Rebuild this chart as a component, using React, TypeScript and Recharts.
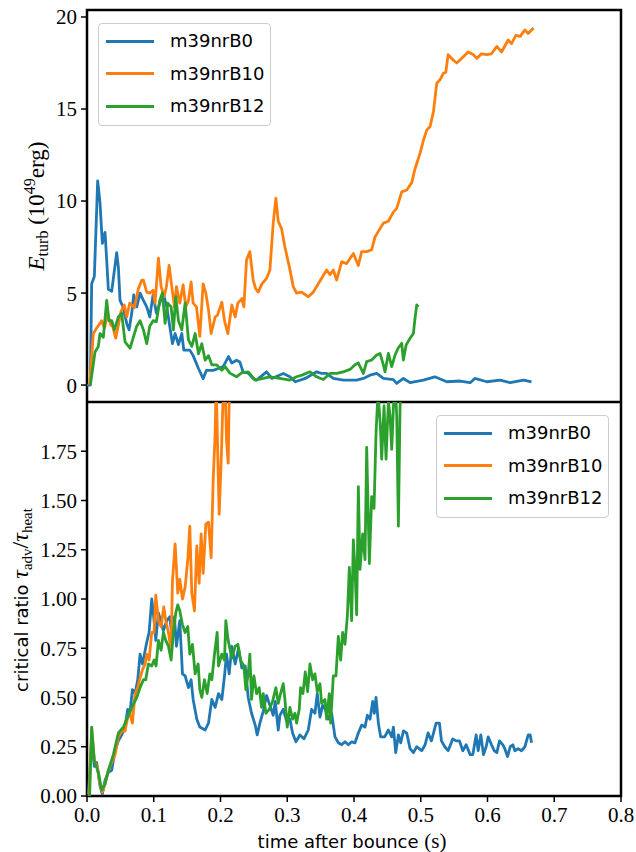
import React from 'react';
import { LineChart, Line, XAxis, YAxis, ReferenceArea } from 'recharts';

// [time after bounce (s), value]
const eB0: [number, number][] = [
  [0.0, 0], [0.005, 0], [0.007, 5.5], [0.011, 5.9], [0.016, 11.1], [0.0195, 9.9], [0.023, 7.7], [0.027, 8.3],
  [0.0295, 6.8], [0.032, 5.2], [0.037, 5.1], [0.0445, 7.2], [0.047, 6.4], [0.0495, 4.6], [0.054, 4.25],
  [0.0595, 3.35], [0.063, 3.0], [0.067, 3.9], [0.07, 4.9], [0.0745, 4.25], [0.0795, 5.0], [0.0845, 4.6],
  [0.0895, 4.25], [0.094, 3.7], [0.099, 4.9], [0.104, 3.9], [0.109, 4.45], [0.114, 5.0], [0.1195, 4.25],
  [0.124, 3.2], [0.128, 2.25], [0.132, 2.8], [0.137, 2.2], [0.142, 2.8], [0.145, 1.9], [0.154, 1.9],
  [0.159, 1.6], [0.167, 0.9], [0.174, 0.35], [0.179, 0.8], [0.189, 0.8], [0.197, 0.9], [0.204, 1.0],
  [0.212, 1.55], [0.217, 1.2], [0.224, 1.35], [0.229, 1.25], [0.234, 0.7], [0.2415, 0.65], [0.249, 0.35],
  [0.254, 0.27], [0.269, 0.72], [0.277, 0.36], [0.294, 0.63], [0.304, 0.45], [0.312, 0.18], [0.327, 0.36],
  [0.344, 0.72], [0.352, 0.63], [0.359, 0.63], [0.369, 0.36], [0.384, 0.27], [0.404, 0.27], [0.414, 0.36],
  [0.424, 0.54], [0.434, 0.63], [0.444, 0.36], [0.459, 0.3], [0.464, 0.09], [0.474, 0.36], [0.484, 0.13],
  [0.504, 0.27], [0.521, 0.45], [0.539, 0.18], [0.559, 0.22], [0.574, 0.13], [0.581, 0.36], [0.599, 0.18],
  [0.619, 0.27], [0.634, 0.13], [0.654, 0.27], [0.666, 0.18],
];

const eB10: [number, number][] = [
  [0.004, 0], [0.0095, 2.8], [0.0145, 3.1], [0.0195, 3.35], [0.022, 3.5], [0.026, 3.1], [0.031, 3.8],
  [0.036, 3.25], [0.038, 3.25], [0.043, 2.55], [0.047, 3.25], [0.051, 4.0], [0.056, 4.35], [0.0595, 3.7],
  [0.064, 4.45], [0.071, 4.2], [0.077, 5.25], [0.082, 5.7], [0.0845, 5.7], [0.0895, 5.05], [0.094, 5.0],
  [0.099, 5.15], [0.102, 4.45], [0.107, 6.9], [0.111, 5.35], [0.1155, 4.8], [0.119, 5.35], [0.123, 6.5],
  [0.127, 5.35], [0.131, 4.25], [0.134, 5.35], [0.139, 4.45], [0.144, 5.45], [0.148, 4.25], [0.152, 4.6],
  [0.156, 5.6], [0.159, 4.45], [0.164, 4.25], [0.169, 2.65], [0.174, 5.5], [0.178, 5.0], [0.182, 4.1],
  [0.186, 2.8], [0.192, 3.7], [0.1955, 3.8], [0.202, 4.5], [0.206, 3.5], [0.211, 2.8], [0.217, 4.35],
  [0.222, 3.7], [0.226, 4.45], [0.232, 4.7], [0.235, 4.25], [0.239, 6.8], [0.244, 7.25], [0.249, 5.7],
  [0.2525, 5.25], [0.2565, 5.05], [0.262, 5.5], [0.269, 5.8], [0.274, 6.25], [0.279, 8.8], [0.283, 10.15],
  [0.2865, 8.9], [0.2915, 8.5], [0.2965, 7.5], [0.303, 6.45], [0.309, 5.35], [0.314, 5.0], [0.3215, 5.05],
  [0.3315, 4.8], [0.339, 5.05], [0.3465, 5.5], [0.3515, 5.8], [0.359, 6.25], [0.364, 6.0], [0.369, 6.25],
  [0.374, 5.7], [0.3815, 6.7], [0.389, 6.6], [0.399, 7.15], [0.4065, 6.5], [0.4115, 7.25], [0.419, 7.25],
  [0.4265, 7.35], [0.4315, 8.05], [0.4365, 8.35], [0.444, 8.8], [0.4515, 8.9], [0.459, 9.4], [0.464, 9.6],
  [0.4715, 10.5], [0.479, 10.6], [0.4865, 11.0], [0.491, 11.7], [0.499, 12.6], [0.504, 13.3], [0.509, 13.85],
  [0.514, 14.05], [0.519, 14.85], [0.524, 16.4], [0.529, 16.6], [0.534, 16.95], [0.5375, 17.0], [0.541, 17.95],
  [0.549, 17.65], [0.554, 17.5], [0.561, 17.75], [0.571, 18.1], [0.579, 17.95], [0.584, 17.75], [0.591, 18.0],
  [0.599, 17.95], [0.606, 18.0], [0.614, 18.4], [0.621, 18.1], [0.631, 18.75], [0.636, 18.55], [0.6425, 19.0],
  [0.649, 18.95], [0.656, 19.3], [0.661, 19.1], [0.669, 19.4],
];

const eB12: [number, number][] = [
  [0.005, 0], [0.012, 1.8], [0.017, 2.1], [0.0195, 2.8], [0.0245, 2.6], [0.0295, 4.6], [0.033, 3.5],
  [0.037, 3.5], [0.041, 3.0], [0.047, 3.7], [0.052, 3.9], [0.057, 2.35], [0.0645, 2.0], [0.0695, 2.6],
  [0.0745, 3.2], [0.0795, 3.5], [0.0845, 3.0], [0.0895, 2.25], [0.094, 3.2], [0.099, 3.5], [0.104, 3.45],
  [0.109, 4.6], [0.113, 5.0], [0.117, 3.35], [0.121, 4.45], [0.126, 4.25], [0.1295, 3.0], [0.133, 4.8],
  [0.137, 3.5], [0.142, 3.0], [0.147, 4.45], [0.152, 2.45], [0.157, 2.1], [0.162, 2.8], [0.167, 1.7],
  [0.172, 2.25], [0.177, 1.35], [0.182, 1.6], [0.187, 1.1], [0.194, 1.1], [0.202, 0.8], [0.207, 1.0],
  [0.214, 0.65], [0.224, 0.45], [0.232, 0.67], [0.2415, 0.72], [0.252, 0.27], [0.264, 0.36], [0.274, 0.45],
  [0.289, 0.36], [0.304, 0.27], [0.314, 0.45], [0.322, 0.54], [0.334, 0.72], [0.344, 0.45], [0.354, 0.3],
  [0.364, 0.63], [0.374, 0.63], [0.384, 0.72], [0.394, 0.85], [0.4015, 1.1], [0.4065, 1.2], [0.414, 0.63],
  [0.419, 1.27], [0.4265, 1.36], [0.434, 1.63], [0.439, 1.72], [0.444, 1.1], [0.4465, 0.72], [0.4515, 1.72],
  [0.4565, 1.0], [0.4615, 1.63], [0.466, 2.0], [0.4715, 2.27], [0.474, 1.36], [0.478, 2.17], [0.484, 2.54],
  [0.489, 2.8], [0.491, 3.5], [0.494, 4.35], [0.4965, 4.25],
];

const rB0: [number, number][] = [
  [0.002, 0.01], [0.007, 0.27], [0.011, 0.15], [0.0145, 0.17], [0.0195, 0.05], [0.023, 0.01], [0.027, 0.08],
  [0.032, 0.12], [0.037, 0.13], [0.042, 0.23], [0.047, 0.28], [0.052, 0.31], [0.057, 0.35], [0.061, 0.44],
  [0.064, 0.41], [0.068, 0.54], [0.072, 0.52], [0.076, 0.59], [0.0795, 0.72], [0.083, 0.67], [0.086, 0.72],
  [0.0895, 0.78], [0.093, 0.83], [0.097, 1.0], [0.1005, 0.89], [0.103, 0.79], [0.107, 0.93], [0.111, 0.88],
  [0.1145, 0.84], [0.1195, 0.89], [0.124, 0.91], [0.128, 0.79], [0.131, 0.91], [0.134, 0.76], [0.139, 0.89],
  [0.143, 0.62], [0.147, 0.61], [0.152, 0.55], [0.156, 0.59], [0.159, 0.49], [0.1645, 0.39], [0.169, 0.35],
  [0.177, 0.335], [0.182, 0.37], [0.187, 0.49], [0.192, 0.45], [0.197, 0.52], [0.202, 0.49], [0.206, 0.61],
  [0.209, 0.72], [0.213, 0.62], [0.217, 0.76], [0.222, 0.67], [0.227, 0.75], [0.232, 0.65], [0.237, 0.66],
  [0.2415, 0.5], [0.2465, 0.42], [0.252, 0.36], [0.255, 0.31], [0.259, 0.37], [0.264, 0.43], [0.269, 0.51],
  [0.274, 0.46], [0.279, 0.41], [0.282, 0.48], [0.2865, 0.335], [0.289, 0.41], [0.294, 0.44], [0.299, 0.38],
  [0.304, 0.39], [0.308, 0.32], [0.313, 0.275], [0.319, 0.31], [0.325, 0.29], [0.3315, 0.335], [0.3365, 0.44],
  [0.3415, 0.42], [0.345, 0.52], [0.349, 0.4], [0.353, 0.46], [0.357, 0.44], [0.3615, 0.39], [0.3665, 0.42],
  [0.3715, 0.3], [0.3765, 0.27], [0.3815, 0.26], [0.3865, 0.275], [0.3915, 0.26], [0.3965, 0.275], [0.4015, 0.27],
  [0.4065, 0.32], [0.4115, 0.36], [0.4165, 0.35], [0.42, 0.41], [0.424, 0.39], [0.428, 0.48], [0.4305, 0.42],
  [0.433, 0.5], [0.4365, 0.37], [0.44, 0.3], [0.446, 0.3], [0.4515, 0.335], [0.4565, 0.3], [0.459, 0.35],
  [0.4625, 0.22], [0.4665, 0.31], [0.47, 0.27], [0.474, 0.33], [0.479, 0.32], [0.484, 0.24], [0.489, 0.22],
  [0.494, 0.25], [0.5015, 0.23], [0.5065, 0.26], [0.511, 0.32], [0.516, 0.28], [0.523, 0.37], [0.528, 0.37],
  [0.531, 0.28], [0.536, 0.25], [0.541, 0.23], [0.548, 0.29], [0.553, 0.28], [0.558, 0.28], [0.563, 0.23],
  [0.568, 0.26], [0.574, 0.21], [0.578, 0.21], [0.583, 0.31], [0.586, 0.23], [0.59, 0.31], [0.594, 0.21],
  [0.598, 0.25], [0.601, 0.3], [0.606, 0.26], [0.61, 0.23], [0.614, 0.22], [0.618, 0.28], [0.623, 0.26],
  [0.626, 0.24], [0.63, 0.2], [0.634, 0.25], [0.638, 0.26], [0.641, 0.23], [0.646, 0.24], [0.651, 0.23],
  [0.656, 0.25], [0.661, 0.31], [0.664, 0.31], [0.666, 0.27],
];

const rB10: [number, number][] = [
  [0.003, 0], [0.007, 0.34], [0.011, 0.18], [0.0155, 0.15], [0.0195, 0.06], [0.023, 0.02], [0.027, 0.06],
  [0.032, 0.13], [0.037, 0.17], [0.042, 0.21], [0.047, 0.3], [0.052, 0.33], [0.057, 0.33], [0.061, 0.4],
  [0.064, 0.42], [0.068, 0.37], [0.072, 0.52], [0.076, 0.55], [0.0795, 0.6], [0.083, 0.64], [0.087, 0.67],
  [0.0895, 0.72], [0.093, 0.69], [0.097, 0.83], [0.1005, 0.83], [0.103, 1.02], [0.107, 0.89], [0.111, 0.86],
  [0.115, 0.96], [0.118, 0.89], [0.122, 0.83], [0.126, 0.74], [0.128, 1.09], [0.132, 1.28], [0.136, 1.03],
  [0.139, 1.1], [0.143, 1.0], [0.147, 1.06], [0.151, 1.2], [0.154, 1.37], [0.157, 1.03], [0.161, 0.94],
  [0.1645, 1.27], [0.168, 1.08], [0.171, 1.33], [0.174, 1.13], [0.178, 1.38], [0.182, 1.39], [0.186, 1.21],
  [0.189, 1.6], [0.192, 1.84], [0.1935, 2.1], [0.196, 1.72], [0.198, 1.43], [0.201, 1.7], [0.203, 1.93],
  [0.206, 2.2], [0.209, 1.81], [0.2115, 1.69], [0.214, 2.2], [0.218, 2.5],
];

const rB12: [number, number][] = [
  [0.004, 0], [0.007, 0.35], [0.011, 0.18], [0.017, 0.12], [0.022, 0.03], [0.027, 0.06], [0.032, 0.13],
  [0.0395, 0.21], [0.047, 0.32], [0.0545, 0.35], [0.0595, 0.39], [0.067, 0.45], [0.0745, 0.5], [0.0795, 0.55],
  [0.0845, 0.59], [0.088, 0.59], [0.092, 0.67], [0.097, 0.66], [0.1005, 0.69], [0.1035, 0.66], [0.107, 0.79],
  [0.111, 0.74], [0.1145, 0.83], [0.118, 0.79], [0.122, 0.76], [0.126, 0.69], [0.1295, 0.83], [0.133, 0.93],
  [0.136, 0.97], [0.139, 0.94], [0.143, 0.87], [0.147, 0.83], [0.151, 0.86], [0.154, 0.72], [0.158, 0.77],
  [0.162, 0.62], [0.1665, 0.67], [0.169, 0.54], [0.172, 0.5], [0.176, 0.59], [0.18, 0.52], [0.184, 0.62],
  [0.187, 0.59], [0.191, 0.72], [0.195, 0.83], [0.197, 0.66], [0.202, 0.72], [0.206, 0.69], [0.208, 0.89],
  [0.2115, 0.79], [0.217, 0.7], [0.222, 0.76], [0.226, 0.77], [0.23, 0.69], [0.235, 0.66], [0.238, 0.54],
  [0.2415, 0.62], [0.244, 0.72], [0.2465, 0.49], [0.25, 0.61], [0.254, 0.52], [0.258, 0.55], [0.2615, 0.45],
  [0.264, 0.52], [0.268, 0.42], [0.273, 0.44], [0.278, 0.48], [0.283, 0.55], [0.2865, 0.47], [0.29, 0.52],
  [0.294, 0.57], [0.2965, 0.49], [0.3, 0.35], [0.304, 0.45], [0.308, 0.39], [0.3115, 0.42], [0.314, 0.37],
  [0.318, 0.44], [0.32, 0.55], [0.3235, 0.52], [0.327, 0.63], [0.3305, 0.53], [0.334, 0.67], [0.338, 0.59],
  [0.3415, 0.62], [0.345, 0.53], [0.349, 0.57], [0.3515, 0.47], [0.3565, 0.49], [0.359, 0.39], [0.363, 0.52],
  [0.365, 0.37], [0.369, 0.61], [0.373, 0.61], [0.3765, 0.81], [0.38, 0.69], [0.383, 0.83], [0.3865, 0.77],
  [0.39, 0.91], [0.393, 1.16], [0.3965, 0.89], [0.399, 1.3], [0.4015, 1.15], [0.404, 0.92], [0.4065, 1.57],
  [0.409, 1.15], [0.413, 1.33], [0.4165, 1.2], [0.419, 1.77], [0.423, 1.18], [0.4265, 1.52], [0.43, 1.46],
  [0.433, 1.84], [0.436, 2.05], [0.4395, 1.88], [0.4415, 1.71], [0.445, 1.98], [0.448, 1.71], [0.4515, 2.0],
  [0.454, 1.93], [0.4565, 1.76], [0.459, 1.97], [0.4615, 2.1], [0.464, 1.93], [0.4665, 1.37], [0.469, 1.98],
  [0.4715, 2.05], [0.48, 2.3],
];

const SERIES = ['m39nrB0', 'm39nrB10', 'm39nrB12'];
const COLORS = ['#1f77b4', '#ff7f0e', '#2ca02c'];
const X_TICKS = [0, 0.1, 0.2, 0.3, 0.4, 0.5, 0.6, 0.7, 0.8];
const TOP_TICKS = [0, 5, 10, 15, 20];
const BOTTOM_TICKS = [0, 0.25, 0.5, 0.75, 1.0, 1.25, 1.5, 1.75];

const TOP_DOMAIN: [number, number] = [-0.92, 20.38];
const BOTTOM_DOMAIN: [number, number] = [0, 2];

const toRows = (pts: [number, number][]) => pts.map(([t, v]) => ({ t, v }));

const serif = '"Liberation Serif", "DejaVu Serif", serif';
const sans = '"DejaVu Sans", sans-serif';
const tickStyle = { fontFamily: serif, fontSize: 21, fill: '#000' };
const tickLine = { stroke: '#000', strokeWidth: 1.5 };

const TopYLabel = () => (
  <text
    x={44}
    y={206}
    transform="rotate(-90 44 206)"
    textAnchor="middle"
    fill="#000"
    style={{ fontFamily: serif, fontSize: 23 }}
  >
    <tspan fontStyle="italic">E</tspan>
    <tspan fontSize={16} dy={4}>turb</tspan>
    <tspan dy={-4}> (10</tspan>
    <tspan fontSize={16} dy={-9}>49</tspan>
    <tspan dy={9}>erg)</tspan>
  </text>
);

const BottomYLabel = () => (
  <text
    x={28}
    y={198}
    transform="rotate(-90 28 198)"
    textAnchor="middle"
    fill="#000"
    style={{ fontFamily: serif, fontSize: 24 }}
  >
    <tspan style={{ fontFamily: sans, fontSize: 18 }}>critical ratio </tspan>
    <tspan fontStyle="italic">τ</tspan>
    <tspan fontSize={15} dy={4}>adv</tspan>
    <tspan dy={-4}>/</tspan>
    <tspan fontStyle="italic">τ</tspan>
    <tspan fontSize={15} dy={4}>heat</tspan>
  </text>
);

const XLabel = () => (
  <text x={352} y={446} textAnchor="middle" fill="#000" style={{ fontFamily: sans, fontSize: 18 }}>
    <tspan>time after bounce </tspan>
    <tspan style={{ fontFamily: serif, fontSize: 21 }}>(s)</tspan>
  </text>
);

const LegendBox = ({ left, top }: { left: number; top: number }) => (
  <div
    style={{
      position: 'absolute',
      left,
      top,
      width: 173,
      height: 103,
      boxSizing: 'border-box',
      border: '1px solid #cccccc',
      borderRadius: 4,
      background: 'rgba(255,255,255,0.8)',
    }}
  >
    {SERIES.map((name, i) => (
      <div key={name} style={{ position: 'absolute', left: 0, top: 17 + i * 32.5, width: '100%' }}>
        <div style={{ position: 'absolute', left: 7, top: -1.5, width: 48, height: 3, background: COLORS[i] }} />
        <div
          style={{
            position: 'absolute',
            left: 71,
            top: -12,
            fontFamily: sans,
            fontSize: 18,
            lineHeight: '24px',
            color: '#000',
            whiteSpace: 'nowrap',
          }}
        >
          {name}
        </div>
      </div>
    ))}
  </div>
);

export default function App() {
  const top = [eB0, eB10, eB12].map(toRows);
  const bottom = [rB0, rB10, rB12].map(toRows);

  return (
    <div style={{ position: 'absolute', left: 0, top: 0, width: 636, height: 852, background: '#fff' }}>
      <div style={{ position: 'absolute', left: 0, top: 0 }}>
        <LineChart width={636} height={402} margin={{ top: 10, right: 15, bottom: 0, left: 0 }}>
          <XAxis type="number" dataKey="t" domain={[0, 0.8]} hide />
          <YAxis
            type="number"
            dataKey="v"
            domain={TOP_DOMAIN}
            ticks={TOP_TICKS}
            width={87}
            axisLine={false}
            tickLine={tickLine}
            tickSize={6}
            tickMargin={4}
            tick={tickStyle}
            label={TopYLabel}
          />
          {top.map((rows, i) => (
            <Line
              key={SERIES[i]}
              data={rows}
              dataKey="v"
              name={SERIES[i]}
              type="linear"
              stroke={COLORS[i]}
              strokeWidth={2.8}
              strokeLinejoin="round"
              dot={false}
              isAnimationActive={false}
            />
          ))}
          <ReferenceArea
            x1={0}
            x2={0.8}
            y1={TOP_DOMAIN[0]}
            y2={TOP_DOMAIN[1]}
            fill="none"
            stroke="#000"
            strokeWidth={2.5}
            ifOverflow="visible"
          />
        </LineChart>
      </div>
      <div style={{ position: 'absolute', left: 0, top: 402 }}>
        <LineChart width={636} height={450} margin={{ top: 0, right: 15, bottom: 0, left: 0 }}>
          <XAxis
            type="number"
            dataKey="t"
            domain={[0, 0.8]}
            ticks={X_TICKS}
            height={56}
            axisLine={false}
            tickLine={tickLine}
            tickSize={6}
            tickMargin={5}
            tick={tickStyle}
            tickFormatter={(v: number) => v.toFixed(1)}
            label={XLabel}
          />
          <YAxis
            type="number"
            dataKey="v"
            domain={BOTTOM_DOMAIN}
            allowDataOverflow
            ticks={BOTTOM_TICKS}
            width={87}
            axisLine={false}
            tickLine={tickLine}
            tickSize={6}
            tickMargin={4}
            tick={tickStyle}
            tickFormatter={(v: number) => v.toFixed(2)}
            label={BottomYLabel}
          />
          {bottom.map((rows, i) => (
            <Line
              key={SERIES[i]}
              data={rows}
              dataKey="v"
              name={SERIES[i]}
              type="linear"
              stroke={COLORS[i]}
              strokeWidth={2.8}
              strokeLinejoin="round"
              dot={false}
              isAnimationActive={false}
            />
          ))}
          <ReferenceArea
            x1={0}
            x2={0.8}
            y1={BOTTOM_DOMAIN[0]}
            y2={BOTTOM_DOMAIN[1]}
            fill="none"
            stroke="#000"
            strokeWidth={2.5}
            ifOverflow="visible"
          />
        </LineChart>
      </div>
      <LegendBox left={98} top={23} />
      <LegendBox left={436} top={415} />
    </div>
  );
}
